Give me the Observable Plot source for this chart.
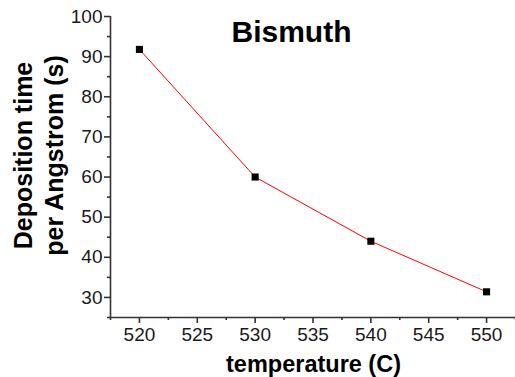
<!DOCTYPE html>
<html>
<head>
<meta charset="utf-8">
<script src="https://cdn.jsdelivr.net/npm/d3@7"></script>
<script src="https://cdn.jsdelivr.net/npm/@observablehq/plot@0.6"></script>
<style>
  html, body { margin: 0; padding: 0; background: #fff; }
  #chart { width: 515px; height: 377px; }
</style>
</head>
<body>
<div id="chart"></div>
<script>
const temperature = [520, 530, 540, 550];
const depositionTime = [91.8, 60.0, 44.0, 31.4];

const xDomain = [517.5, 552.5];
const yDomain = [25, 100];
const xTicks = [520, 525, 530, 535, 540, 545, 550];
const xMinorTicks = [517.5, 522.5, 527.5, 532.5, 537.5, 542.5, 547.5, 552.5];
const yTicks = [30, 40, 50, 60, 70, 80, 90, 100];
const yMinorTicks = [25, 35, 45, 55, 65, 75, 85, 95];

const titleText = "Bismuth";
const xLabel = "temperature (C)";
const yLabel = "Deposition time\nper Angstrom (s)";

const data = temperature.map((t, i) => ({ t, v: depositionTime[i] }));

const axisColor = "#333";
const textColor = "#1a1a1a";

const chart = Plot.plot({
  width: 515,
  height: 377,
  marginLeft: 110,
  marginRight: 0,
  marginTop: 16,
  marginBottom: 60,
  style: { fontFamily: "'Liberation Sans', Arial, sans-serif", fontSize: "19px", color: textColor, background: "#fff" },
  x: { domain: xDomain },
  y: { domain: yDomain },
  marks: [
    Plot.ruleY([yDomain[0]], { stroke: axisColor, strokeWidth: 1.6 }),
    Plot.ruleX([xDomain[0]], { stroke: axisColor, strokeWidth: 1.6 }),
    Plot.axisX(xTicks, { anchor: "bottom", tickSize: 6, tickPadding: 4, label: null, stroke: axisColor, strokeWidth: 1.6, fill: textColor, fontSize: 19 }),
    Plot.axisX(xMinorTicks, { anchor: "bottom", tickSize: 3, tickFormat: () => "", label: null, stroke: axisColor, strokeWidth: 1.6 }),
    Plot.axisY(yTicks, { anchor: "left", tickSize: 6, tickPadding: 2, label: null, stroke: axisColor, strokeWidth: 1.6, fill: textColor, fontSize: 19 }),
    Plot.axisY(yMinorTicks, { anchor: "left", tickSize: 3, tickFormat: () => "", label: null, stroke: axisColor, strokeWidth: 1.6 }),
    Plot.line(data, { x: "t", y: "v", stroke: "#ff0000", strokeWidth: 1 }),
    Plot.dot(data, { x: "t", y: "v", symbol: "square", r: 4, fill: "#000", stroke: "none" }),
    Plot.text([titleText], { frameAnchor: "top", lineAnchor: "top", dx: -21.5, dy: 4, fontSize: 30, fontWeight: "bold", fill: "#000" }),
    Plot.text([xLabel], { frameAnchor: "bottom", lineAnchor: "top", textAnchor: "middle", dx: 0.5, dy: 38, fontSize: 23.5, fontWeight: "bold", fill: "#000" }),
    Plot.text([yLabel], { frameAnchor: "left", lineAnchor: "top", textAnchor: "middle", rotate: -90, dx: -101, dy: -11.5, fontSize: 25, lineHeight: 1.24, fontWeight: "bold", fill: "#000" })
  ]
});
document.getElementById("chart").appendChild(chart);
</script>
</body>
</html>
